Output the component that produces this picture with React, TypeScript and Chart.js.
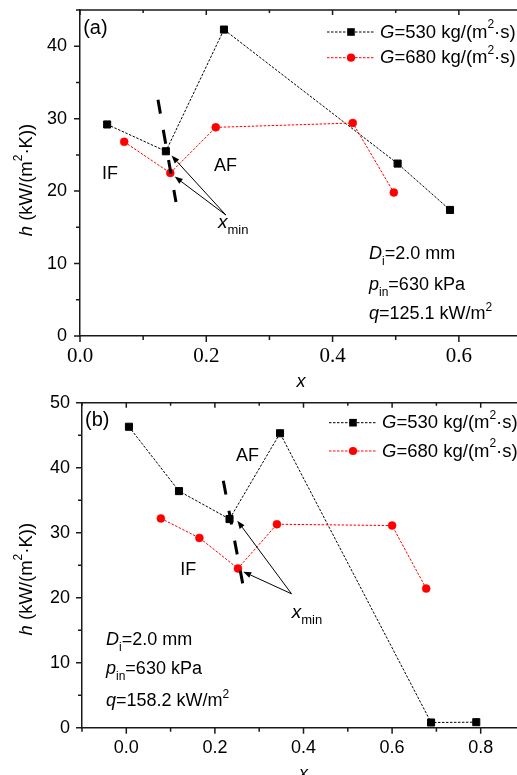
import React, { useEffect, useRef } from "react";
import { Chart, registerables } from "chart.js";
Chart.register(...registerables);

// ---------- data: panel (a) ----------
const xA_G530 = [0.043, 0.136, 0.228, 0.503, 0.586];
const hA_G530 = [29.2, 25.5, 42.3, 23.8, 17.4];
const xA_G680 = [0.07, 0.143, 0.215, 0.432, 0.497];
const hA_G680 = [26.8, 22.5, 28.8, 29.4, 19.8];

// ---------- data: panel (b) ----------
const xB_G530 = [0.006, 0.119, 0.233, 0.347, 0.688, 0.79];
const hB_G530 = [46.3, 36.4, 32.1, 45.3, 0.8, 0.85];
const xB_G680 = [0.078, 0.165, 0.252, 0.34, 0.6, 0.677];
const hB_G680 = [32.2, 29.2, 24.5, 31.3, 31.1, 21.4];

// ---------- ticks ----------
const xTicksA = [0, 0.2, 0.4, 0.6];
const xMinorA = [0.1, 0.3, 0.5, 0.7];
const yTicksA = [0, 10, 20, 30, 40];
const yMinorA = [5, 15, 25, 35, 45];
const xTicksB = [0, 0.2, 0.4, 0.6, 0.8];
const xMinorB = [-0.1, 0.1, 0.3, 0.5, 0.7, 0.9];
const yTicksB = [0, 10, 20, 30, 40, 50];
const yMinorB = [5, 15, 25, 35, 45];

// ---------- texts ----------
const massFluxes = ["530", "680"];
const diameterText = "=2.0 mm";
const pressureText = "=630 kPa";
const heatFluxA = "=125.1 kW/m";
const heatFluxB = "=158.2 kW/m";

const SANS = "'Liberation Sans', Arial, Helvetica, sans-serif";
const SERIF = "'Liberation Serif', 'Times New Roman', serif";
const RED = "#ff0000";
const BLACK = "#000000";
const AXIS = "#1a1a1a";

type Part = { t: string; i?: boolean; sub?: boolean; sup?: boolean };
type Pt = [number, number];

interface Panel {
  tag: string;
  x530: number[]; h530: number[]; x680: number[]; h680: number[];
  xMin: number; xMax: number; yMin: number; yMax: number;
  xTicks: number[]; xMinor: number[]; yTicks: number[]; yMinor: number[];
  xTickFont: { family: string; size: number };
  xTickPad: number; yTickPad: number;
  canvasH: number; padTop: number; padRight: number; yAxisW: number; xAxisH: number;
  tagPos: Pt; ifPos: Pt; afPos: Pt; xminPos: Pt;
  dash: Pt[]; arrowFrom: Pt; arrowTo: Pt[];
  infoX: number; infoY: number[]; heatFlux: string;
  legendRows: number[];
  yTitleShift: number;
}

const panelA: Panel = {
  tag: "(a)",
  x530: xA_G530, h530: hA_G530, x680: xA_G680, h680: hA_G680,
  xMin: 0, xMax: 0.7, yMin: 0, yMax: 45,
  xTicks: xTicksA, xMinor: xMinorA, yTicks: yTicksA, yMinor: yMinorA,
  xTickFont: { family: SERIF, size: 21 },
  xTickPad: 8, yTickPad: 13,
  canvasH: 395, padTop: 10, padRight: 38, yAxisW: 80, xAxisH: 59,
  tagPos: [0.005, 42.4], ifPos: [0.0475, 22.4], afPos: [0.2304, 23.4], xminPos: [0.2185, 14.9],
  dash: [[0.1235, 32.6], [0.152, 18.5]], arrowFrom: [0.231, 16.7], arrowTo: [[0.145, 24.9], [0.150, 22.0]],
  infoX: 0.4577, infoY: [10.64, 6.35, 2.35], heatFlux: heatFluxA,
  legendRows: [22, 47.7],
  yTitleShift: 7,
};

const panelB: Panel = {
  tag: "(b)",
  x530: xB_G530, h530: hB_G530, x680: xB_G680, h680: hB_G680,
  xMin: -0.1, xMax: 0.9, yMin: 0, yMax: 50,
  xTicks: xTicksB, xMinor: xMinorB, yTicks: yTicksB, yMinor: yMinorB,
  xTickFont: { family: SANS, size: 18 },
  xTickPad: 10, yTickPad: 12,
  canvasH: 385, padTop: 12.7, padRight: 35, yAxisW: 82, xAxisH: 47.3,
  tagPos: [-0.0932, 47.2], ifPos: [0.14, 24.26], afPos: [0.2736, 41.8], xminPos: [0.3734, 16.9],
  dash: [[0.219, 38.0], [0.2627, 22.2]], arrowFrom: [0.373, 20.6], arrowTo: [[0.2506, 31.85], [0.264, 24.0]],
  infoX: -0.0458, infoY: [12.72, 8.2, 3.34], heatFlux: heatFluxB,
  legendRows: [20, 48.3],
  yTitleShift: 14,
};

function partFont(p: Part, size: number) {
  const s = p.sub || p.sup ? Math.round(size * 0.66) : size;
  return `${p.i ? "italic " : ""}${s}px ${SANS}`;
}
function richWidth(ctx: CanvasRenderingContext2D, parts: Part[], size: number) {
  let w = 0;
  for (const p of parts) {
    ctx.font = partFont(p, size);
    w += ctx.measureText(p.t).width;
  }
  return w;
}
function drawRich(ctx: CanvasRenderingContext2D, x: number, y: number, parts: Part[], size: number, align: "left" | "center" = "left") {
  const w = richWidth(ctx, parts, size);
  let cx = align === "center" ? x - w / 2 : x;
  ctx.textAlign = "left";
  for (const p of parts) {
    ctx.font = partFont(p, size);
    const dy = p.sub ? size * 0.33 : p.sup ? -size * 0.42 : 0;
    ctx.fillText(p.t, cx, y + dy);
    cx += ctx.measureText(p.t).width;
  }
}

function makePlugin(panel: Panel) {
  return {
    id: "panelDecor" + panel.tag,
    afterDraw(chart: any) {
      const ctx: CanvasRenderingContext2D = chart.ctx;
      const { left, right, top, bottom } = chart.chartArea;
      const xs = chart.scales.x;
      const ys = chart.scales.y;
      const px = (v: number) => xs.getPixelForValue(v);
      const py = (v: number) => ys.getPixelForValue(v);
      ctx.save();

      // ticks and frame
      ctx.strokeStyle = AXIS;
      ctx.lineWidth = 1.5;
      ctx.beginPath();
      const seg = (a: number, b: number, c: number, d: number) => { ctx.moveTo(a, b); ctx.lineTo(c, d); };
      panel.xTicks.forEach((v) => { const x = px(v); seg(x, bottom, x, bottom + 6); seg(x, top, x, top + 5); });
      panel.xMinor.forEach((v) => { const x = px(v); seg(x, bottom, x, bottom + 4); seg(x, top, x, top + 3); });
      panel.yTicks.forEach((v) => { const y = py(v); seg(left, y, left - 6, y); seg(right, y, right - 5, y); });
      panel.yMinor.forEach((v) => { const y = py(v); seg(left, y, left - 4, y); seg(right, y, right - 3, y); });
      seg(left, top, right, top);
      seg(right, top, right, bottom);
      ctx.stroke();

      // thick dashed x_min line
      ctx.strokeStyle = BLACK;
      ctx.lineWidth = 3;
      ctx.setLineDash([14, 16.5]);
      ctx.beginPath();
      ctx.moveTo(px(panel.dash[0][0]), py(panel.dash[0][1]));
      ctx.lineTo(px(panel.dash[1][0]), py(panel.dash[1][1]));
      ctx.stroke();
      ctx.setLineDash([]);

      // arrows
      ctx.lineWidth = 1;
      ctx.fillStyle = BLACK;
      const fx = px(panel.arrowFrom[0]);
      const fy = py(panel.arrowFrom[1]);
      panel.arrowTo.forEach(([tx0, ty0]) => {
        const tx = px(tx0), ty = py(ty0);
        const ang = Math.atan2(ty - fy, tx - fx);
        const L = 8, W = 3;
        const bx = tx - L * Math.cos(ang), by = ty - L * Math.sin(ang);
        ctx.beginPath();
        ctx.moveTo(fx, fy);
        ctx.lineTo(bx, by);
        ctx.stroke();
        ctx.beginPath();
        ctx.moveTo(tx, ty);
        ctx.lineTo(bx + W * Math.sin(ang), by - W * Math.cos(ang));
        ctx.lineTo(bx - W * Math.sin(ang), by + W * Math.cos(ang));
        ctx.closePath();
        ctx.fill();
      });

      // labels
      ctx.fillStyle = BLACK;
      ctx.textBaseline = "middle";
      ctx.textAlign = "left";
      ctx.font = `20px ${SANS}`;
      ctx.fillText(panel.tag, px(panel.tagPos[0]), py(panel.tagPos[1]));
      ctx.textAlign = "center";
      ctx.font = `18px ${SANS}`;
      ctx.fillText("IF", px(panel.ifPos[0]), py(panel.ifPos[1]));
      ctx.fillText("AF", px(panel.afPos[0]), py(panel.afPos[1]));

      ctx.textBaseline = "alphabetic";
      drawRich(ctx, px(panel.xminPos[0]), py(panel.xminPos[1]), [{ t: "x", i: true }, { t: "min", sub: true }], 19);

      // info block
      const infoLines: Part[][] = [
        [{ t: "D", i: true }, { t: "i", sub: true }, { t: diameterText }],
        [{ t: "p", i: true }, { t: "in", sub: true }, { t: pressureText }],
        [{ t: "q", i: true }, { t: panel.heatFlux }, { t: "2", sup: true }],
      ];
      infoLines.forEach((parts, k) => drawRich(ctx, px(panel.infoX), py(panel.infoY[k]), parts, 18));

      // legend
      const legendSeries = [
        { color: BLACK, square: true, name: massFluxes[0] },
        { color: RED, square: false, name: massFluxes[1] },
      ];
      legendSeries.forEach((s, k) => {
        const y = top + panel.legendRows[k];
        ctx.strokeStyle = s.color;
        ctx.fillStyle = s.color;
        ctx.lineWidth = 1;
        ctx.setLineDash([2.5, 1.5]);
        ctx.beginPath();
        ctx.moveTo(left + 247, y);
        ctx.lineTo(left + 295, y);
        ctx.stroke();
        ctx.setLineDash([]);
        const mx = left + 271;
        if (s.square) ctx.fillRect(mx - 3.8, y - 3.8, 7.6, 7.6);
        else { ctx.beginPath(); ctx.arc(mx, y, 4.1, 0, Math.PI * 2); ctx.fill(); }
        ctx.fillStyle = BLACK;
        ctx.textBaseline = "middle";
        drawRich(ctx, left + 300, y + 0.5, [{ t: "G", i: true }, { t: "=" + s.name + " kg/(m" }, { t: "2", sup: true }, { t: "·s)" }], 18.5);
      });

      // axis titles
      ctx.fillStyle = BLACK;
      ctx.textBaseline = "alphabetic";
      ctx.textAlign = "center";
      ctx.font = `italic 18px ${SANS}`;
      ctx.fillText("x", (left + right) / 2, bottom + 51);

      ctx.save();
      ctx.translate(26.5, (top + bottom) / 2 + panel.yTitleShift);
      ctx.rotate(-Math.PI / 2);
      ctx.textBaseline = "middle";
      drawRich(ctx, 0, 0, [{ t: "h", i: true }, { t: " (kW/(m" }, { t: "2", sup: true }, { t: "·K))" }], 18.5, "center");
      ctx.restore();

      ctx.restore();
    },
  };
}

function makeConfig(panel: Panel): any {
  const pts = (xs: number[], ys: number[]) => xs.map((x, i) => ({ x, y: ys[i] }));
  return {
    type: "scatter",
    data: {
      datasets: [
        {
          label: "G=680",
          data: pts(panel.x680, panel.h680),
          showLine: true,
          borderColor: RED,
          backgroundColor: RED,
          borderWidth: 1,
          borderDash: [2.5, 1.5],
          pointStyle: "circle",
          pointRadius: 4,
          pointBorderWidth: 0.5,
          pointBackgroundColor: RED,
          pointBorderColor: RED,
        },
        {
          label: "G=530",
          data: pts(panel.x530, panel.h530),
          showLine: true,
          borderColor: BLACK,
          backgroundColor: BLACK,
          borderWidth: 1,
          borderDash: [2.5, 1.5],
          pointStyle: "rect",
          pointRadius: 5,
          pointBorderWidth: 1,
          pointBackgroundColor: BLACK,
          pointBorderColor: BLACK,
        },
      ],
    },
    options: {
      responsive: false,
      animation: false,
      devicePixelRatio: 1,
      events: [],
      layout: { padding: { top: panel.padTop, left: 0, right: panel.padRight, bottom: 0 } },
      plugins: { legend: { display: false }, tooltip: { enabled: false }, title: { display: false } },
      scales: {
        x: {
          type: "linear",
          min: panel.xMin,
          max: panel.xMax,
          afterBuildTicks: (s: any) => { s.ticks = panel.xTicks.map((v) => ({ value: v })); },
          afterFit: (s: any) => { s.height = panel.xAxisH; s.paddingLeft = 0; s.paddingRight = 0; },
          ticks: {
            callback: (v: any) => Number(v).toFixed(1),
            font: panel.xTickFont,
            color: BLACK,
            padding: panel.xTickPad,
            maxRotation: 0,
            autoSkip: false,
          },
          grid: { display: false, drawTicks: false },
          border: { display: true, color: AXIS, width: 1.5 },
        },
        y: {
          type: "linear",
          min: panel.yMin,
          max: panel.yMax,
          afterBuildTicks: (s: any) => { s.ticks = panel.yTicks.map((v) => ({ value: v })); },
          afterFit: (s: any) => { s.width = panel.yAxisW; s.paddingTop = 0; s.paddingBottom = 0; },
          ticks: {
            callback: (v: any) => String(v),
            font: { family: SANS, size: 18 },
            color: BLACK,
            padding: panel.yTickPad,
            autoSkip: false,
          },
          grid: { display: false, drawTicks: false },
          border: { display: true, color: AXIS, width: 1.5 },
        },
      },
    },
    plugins: [makePlugin(panel)],
  };
}

function ChartPanel({ panel, top }: { panel: Panel; top: number }) {
  const ref = useRef<HTMLCanvasElement>(null);
  useEffect(() => {
    const chart = new Chart(ref.current as HTMLCanvasElement, makeConfig(panel));
    return () => chart.destroy();
  }, [panel]);
  return (
    <canvas
      ref={ref}
      width={560}
      height={panel.canvasH}
      style={{ position: "absolute", left: 0, top, width: 560, height: panel.canvasH }}
    />
  );
}

export default function App() {
  return (
    <div style={{ position: "fixed", left: 0, top: 0, width: 517, height: 775, overflow: "hidden", background: "#fff" }}>
      <ChartPanel panel={panelA} top={0} />
      <ChartPanel panel={panelB} top={390} />
    </div>
  );
}
